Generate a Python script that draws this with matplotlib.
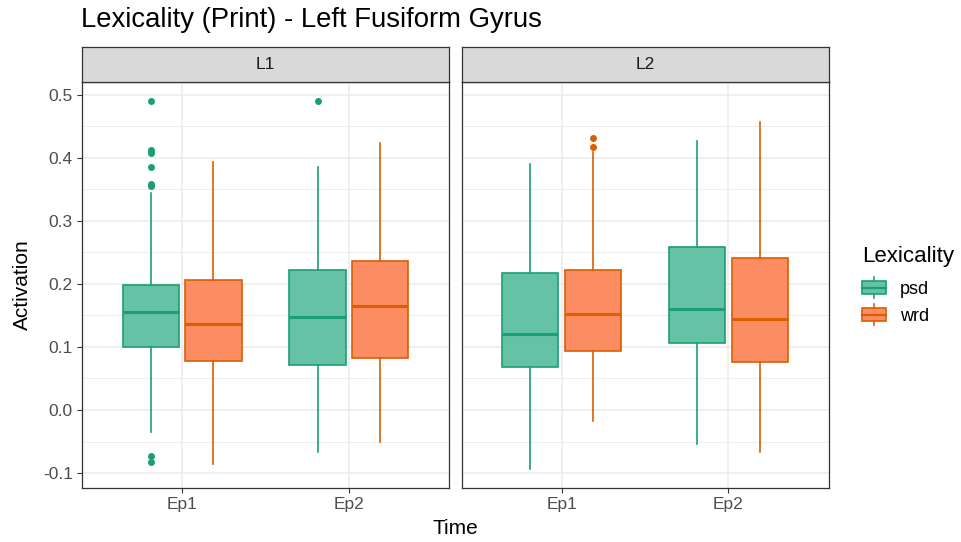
import matplotlib
matplotlib.use("Agg")
import matplotlib.pyplot as plt
from matplotlib.patches import Rectangle
from matplotlib.lines import Line2D
from matplotlib.legend_handler import HandlerBase

plt.rcParams['font.family'] = ['Liberation Sans', 'DejaVu Sans']

panels = ["L1", "L2"]
times = ["Ep1", "Ep2"]
groups = ["psd", "wrd"]

# stats per panel -> time -> group: (whislo, q1, med, q3, whishi)
L1_psd = [(-0.035, 0.100, 0.156, 0.199, 0.344), (-0.067, 0.072, 0.147, 0.223, 0.385)]
L1_wrd = [(-0.085, 0.078, 0.136, 0.207, 0.393), (-0.050, 0.083, 0.165, 0.236, 0.423)]
L2_psd = [(-0.094, 0.068, 0.120, 0.218, 0.391), (-0.054, 0.106, 0.160, 0.259, 0.427)]
L2_wrd = [(-0.018, 0.093, 0.152, 0.222, 0.410), (-0.067, 0.076, 0.144, 0.241, 0.457)]

L1_psd_out = [[0.490, 0.413, 0.408, 0.386, 0.358, 0.355, -0.073, -0.082], [0.491]]
L1_wrd_out = [[], []]
L2_psd_out = [[], []]
L2_wrd_out = [[0.431, 0.418], []]

data = {
    "L1": {"psd": (L1_psd, L1_psd_out), "wrd": (L1_wrd, L1_wrd_out)},
    "L2": {"psd": (L2_psd, L2_psd_out), "wrd": (L2_wrd, L2_wrd_out)},
}

fills = {"psd": "#66C2A5", "wrd": "#FC8D62"}
lines = {"psd": "#1B9E77", "wrd": "#D95F02"}
offsets = {"psd": -0.1875, "wrd": 0.1875}
bw = 0.3375

W, H = 961, 542
fig = plt.figure(figsize=(W / 100, H / 100), dpi=100)

def fx(px):
    return px / W

def fy(py):
    return 1 - py / H

panel_left = {"L1": 82, "L2": 461.5}
pw = 367
ptop, pbot = 82, 488
strip_top = 47

yticks = [-0.1, 0.0, 0.1, 0.2, 0.3, 0.4, 0.5]
ymin, ymax = -0.1238, 0.5206

for pi, p in enumerate(panels):
    ax = fig.add_axes([fx(panel_left[p]), fy(pbot), pw / W, (pbot - ptop) / H])
    ax.set_xlim(0.4, 2.6)
    ax.set_ylim(ymin, ymax)
    ax.set_yticks(yticks)
    ax.set_yticks([-0.05, 0.05, 0.15, 0.25, 0.35, 0.45], minor=True)
    ax.set_xticks([1, 2])
    ax.set_xticklabels(times)
    ax.grid(True, which="major", color="#EBEBEB", linewidth=1.1)
    ax.grid(True, which="minor", axis="y", color="#EBEBEB", linewidth=0.6)
    ax.set_axisbelow(True)
    for s in ax.spines.values():
        s.set_color("#333333")
        s.set_linewidth(0.9)
    ax.tick_params(axis="both", which="major", colors="#333333", labelcolor="#4D4D4D",
                   labelsize=12.5, length=3.5, width=0.8, pad=3)
    ax.tick_params(axis="y", which="minor", length=0)
    if pi == 0:
        ax.set_yticklabels([f"{v:.1f}" for v in yticks])
    else:
        ax.tick_params(axis="y", which="both", left=False, labelleft=False)

    for g in groups:
        stats_list, outs = data[p][g]
        stats = []
        for (lo, q1, med, q3, hi), fl in zip(stats_list, outs):
            stats.append(dict(whislo=lo, q1=q1, med=med, q3=q3, whishi=hi, fliers=fl))
        pos = [i + 1 + offsets[g] for i in range(len(times))]
        ax.bxp(stats, positions=pos, widths=bw, patch_artist=True, showcaps=False,
               boxprops=dict(facecolor=fills[g], edgecolor=lines[g], linewidth=1.2),
               whiskerprops=dict(color=lines[g], linewidth=1.2),
               medianprops=dict(color=lines[g], linewidth=2.2),
               flierprops=dict(marker="o", markerfacecolor=lines[g], markeredgecolor=lines[g],
                               markersize=4, linestyle="none"),
               manage_ticks=False)

    # strip
    sax = fig.add_axes([fx(panel_left[p]), fy(ptop), pw / W, (ptop - strip_top) / H])
    sax.set_xticks([]); sax.set_yticks([])
    sax.set_facecolor("#D9D9D9")
    for s in sax.spines.values():
        s.set_color("#333333")
        s.set_linewidth(0.9)
    sax.text(0.5, 0.5, p, ha="center", va="center", fontsize=12.5, color="#1A1A1A",
             transform=sax.transAxes)

fig.text(fx(81), fy(20), "Lexicality (Print) - Left Fusiform Gyrus", fontsize=19.8,
         ha="left", va="center", color="black")
fig.text(fx(22), fy(285), "Activation", rotation=90, fontsize=15, ha="center", va="center")
fig.text(fx(455), fy(529), "Time", fontsize=15, ha="center", va="center")


class BoxHandler(HandlerBase):
    def __init__(self, g):
        super().__init__()
        self.g = g

    def create_artists(self, legend, orig_handle, xdescent, ydescent, width, height, fontsize, trans):
        g = self.g
        x0 = -xdescent
        y0 = -ydescent
        r = Rectangle((x0, y0 + height * 0.1), width, height * 0.8,
                      facecolor=fills[g], edgecolor=lines[g], linewidth=1.2, transform=trans)
        m = Line2D([x0, x0 + width], [y0 + height / 2] * 2,
                   color=lines[g], linewidth=1.6, transform=trans)
        cx = x0 + width / 2
        w1 = Line2D([cx, cx], [y0 + height * 0.9, y0 + height * 1.15],
                    color=lines[g], linewidth=1.2, transform=trans)
        w2 = Line2D([cx, cx], [y0 + height * 0.1, y0 - height * 0.15],
                    color=lines[g], linewidth=1.2, transform=trans)
        return [w1, w2, r, m]


handles = [Rectangle((0, 0), 1, 1) for _ in groups]
leg = fig.legend(handles, groups, title="Lexicality", loc="upper left",
                 bbox_to_anchor=(fx(862), fy(246)), frameon=False, fontsize=13,
                 title_fontsize=16, handlelength=1.35, handleheight=1.0,
                 handler_map={h: BoxHandler(g) for h, g in zip(handles, groups)},
                 labelspacing=0.5, handletextpad=0.75, borderaxespad=0, borderpad=0)
leg._legend_box.align = "left"
leg._legend_box.sep = 9

fig.savefig("out.png", dpi=100)
